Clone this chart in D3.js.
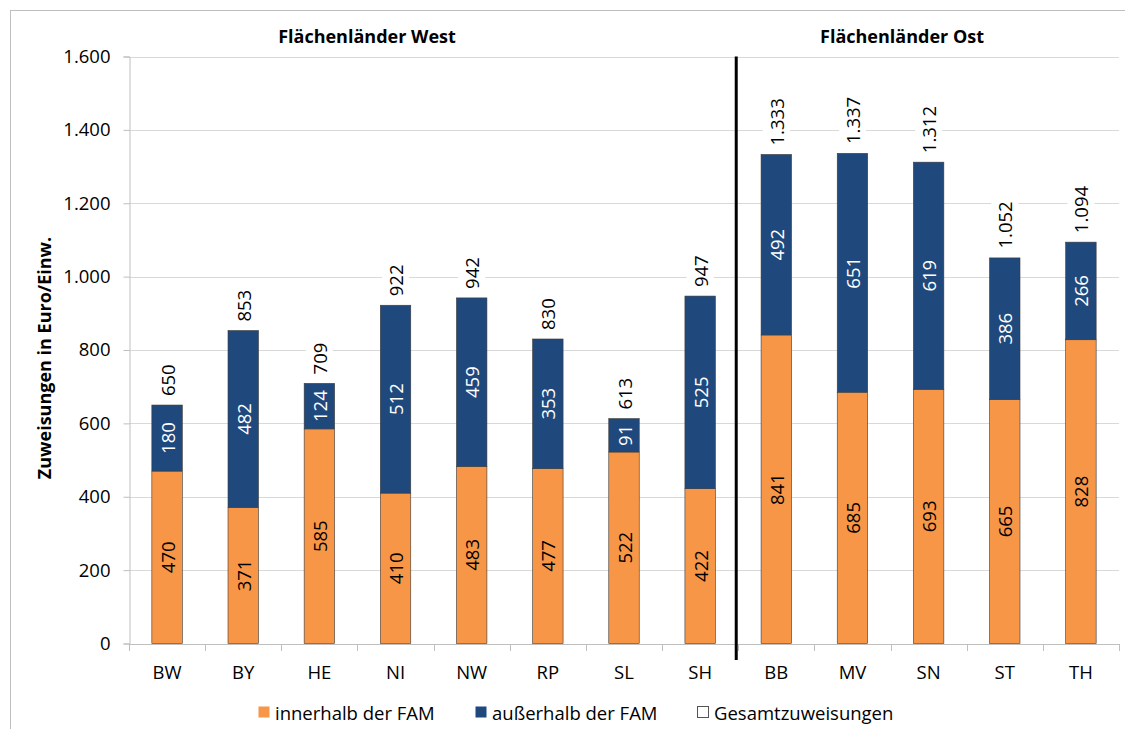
<!DOCTYPE html>
<html>
<head>
<meta charset="utf-8">
<script src="https://cdn.jsdelivr.net/npm/d3@7"></script>
<style>
  html, body { margin: 0; padding: 0; background: #fff; }
  svg { display: block; font-family: "Open Sans", Lato, sans-serif; }
</style>
</head>
<body>
<svg id="chart" width="1125" height="729"></svg>
<script>
// Zuweisungen je Einwohner, Flächenländer West / Ost
const laender = ["BW", "BY", "HE", "NI", "NW", "RP", "SL", "SH", "BB", "MV", "SN", "ST", "TH"];
const innerhalb = [470, 371, 585, 410, 483, 477, 522, 422, 841, 685, 693, 665, 828];
const ausserhalb = [180, 482, 124, 512, 459, 353, 91, 525, 492, 651, 619, 386, 266];
const gesamt = [650, 853, 709, 922, 942, 830, 613, 947, 1333, 1337, 1312, 1052, 1094];
const yTicks = [0, 200, 400, 600, 800, 1000, 1200, 1400, 1600];
const westCount = 8;
const gruppen = ["Flächenländer West", "Flächenländer Ost"];
const legende = ["innerhalb der FAM", "außerhalb der FAM", "Gesamtzuweisungen"];

const colInner = "#F79646";
const colOuter = "#1F497D";
const fontMain = "'Open Sans', Lato, sans-serif";
const fs = 18.5;

const de = d3.formatLocale({ decimal: ",", thousands: ".", grouping: [3], currency: ["", " €"] });
const fmt = de.format(",d");

const svg = d3.select("#chart");
const plotL = 129, plotR = 1119, plotT = 56.5, plotB = 643.5;

// outer chart frame
svg.append("rect")
  .attr("x", 10.5).attr("y", 10.5)
  .attr("width", 1125).attr("height", 729)
  .attr("fill", "none").attr("stroke", "#bfbfbf").attr("stroke-width", 1);

const x = d3.scaleBand().domain(laender).range([plotL, plotR]).paddingInner(0.6).paddingOuter(0.3);
const y = d3.scaleLinear().domain([0, 1600]).range([plotB, plotT]);

// gridlines
svg.append("g")
  .selectAll("line")
  .data(yTicks.filter(d => d > 0))
  .join("line")
  .attr("x1", plotL).attr("x2", plotR)
  .attr("y1", d => Math.round(y(d)) + 0.5).attr("y2", d => Math.round(y(d)) + 0.5)
  .attr("stroke", "#d9d9d9").attr("stroke-width", 1);

// y axis
const yAxis = svg.append("g")
  .attr("transform", `translate(${plotL + 0.5},0)`)
  .call(d3.axisLeft(y).tickValues(yTicks).tickFormat(fmt).tickSize(6).tickPadding(13));
yAxis.select(".domain").attr("stroke", "#bfbfbf");
yAxis.selectAll(".tick line").attr("stroke", "#bfbfbf");
yAxis.selectAll(".tick text")
  .attr("font-size", fs).attr("fill", "#000")
  .attr("font-family", fontMain);

// x axis (ticks between categories)
const boundaries = d3.range(laender.length + 1).map(i => plotL + i * (plotR - plotL) / laender.length);
const xAxisG = svg.append("g");
xAxisG.append("line")
  .attr("x1", plotL).attr("x2", plotR)
  .attr("y1", Math.round(plotB) + 0.5).attr("y2", Math.round(plotB) + 0.5)
  .attr("stroke", "#bfbfbf");
xAxisG.selectAll("line.tk")
  .data(boundaries)
  .join("line").attr("class", "tk")
  .attr("x1", d => Math.round(d) + 0.5).attr("x2", d => Math.round(d) + 0.5)
  .attr("y1", Math.round(plotB)).attr("y2", Math.round(plotB) + 7)
  .attr("stroke", "#bfbfbf");
xAxisG.selectAll("text")
  .data(laender)
  .join("text")
  .attr("x", d => x(d) + x.bandwidth() / 2)
  .attr("y", 679)
  .attr("text-anchor", "middle")
  .attr("font-size", fs)
  .text(d => d);

// stacked bars
const rows = laender.map((k, i) => ({ k, inner: innerhalb[i], outer: ausserhalb[i], total: gesamt[i] }));
const stack = d3.stack().keys(["inner", "outer"])(rows);
const colors = { inner: colInner, outer: colOuter };

const bars = svg.append("g");
stack.forEach(layer => {
  bars.append("g")
    .selectAll("rect")
    .data(layer)
    .join("rect")
    .attr("x", d => x(d.data.k))
    .attr("width", x.bandwidth())
    .attr("y", d => y(d[1]))
    .attr("height", d => y(d[0]) - y(d[1]))
    .attr("fill", colors[layer.key])
    .attr("stroke", "#3a3a3a")
    .attr("stroke-width", 0.6);
});

// value labels inside segments
stack.forEach(layer => {
  bars.append("g")
    .selectAll("text")
    .data(layer)
    .join("text")
    .attr("transform", d => {
      const cx = x(d.data.k) + x.bandwidth() / 2;
      const cy = (y(d[0]) + y(d[1])) / 2;
      return `translate(${cx},${cy}) rotate(-90)`;
    })
    .attr("text-anchor", "middle")
    .attr("dominant-baseline", "central")
    .attr("font-size", fs)
    .attr("fill", layer.key === "inner" ? "#000" : "#fff")
    .text(d => fmt(d.data[layer.key]));
});

// total labels above bars, on white background
const totals = svg.append("g");
rows.forEach(r => {
  const cx = x(r.k) + x.bandwidth() / 2;
  const base = y(r.total) - 9;
  const g = totals.append("g").attr("transform", `translate(${cx},${base}) rotate(-90)`);
  const t = g.append("text")
    .attr("x", 0).attr("y", 0)
    .attr("text-anchor", "start")
    .attr("dominant-baseline", "central")
    .attr("font-size", fs)
    .text(fmt(r.total));
  const bb = t.node().getBBox();
  g.insert("rect", "text")
    .attr("x", bb.x - 3).attr("y", bb.y - 1)
    .attr("width", bb.width + 6).attr("height", bb.height + 2)
    .attr("fill", "#fff");
});

// divider between West and East
const divX = boundaries[westCount];
svg.append("line")
  .attr("x1", divX - 2).attr("x2", divX - 2)
  .attr("y1", plotT).attr("y2", 660)
  .attr("stroke", "#000").attr("stroke-width", 3);

// group headings
svg.append("text")
  .attr("x", 367).attr("y", 43)
  .attr("text-anchor", "middle")
  .attr("font-size", 18).attr("font-weight", "bold")
  .text(gruppen[0]);
svg.append("text")
  .attr("x", 902).attr("y", 43)
  .attr("text-anchor", "middle")
  .attr("font-size", 18).attr("font-weight", "bold")
  .text(gruppen[1]);

// y axis title
svg.append("text")
  .attr("transform", "translate(44,358) rotate(-90)")
  .attr("text-anchor", "middle")
  .attr("dominant-baseline", "central")
  .attr("font-size", 18).attr("font-weight", "bold")
  .text("Zuweisungen in Euro/Einw.");

// legend
const legItems = [
  { label: legende[0], fill: colInner, stroke: "none", x: 258 },
  { label: legende[1], fill: colOuter, stroke: "none", x: 475 },
  { label: legende[2], fill: "#fff", stroke: "#555", x: 697 }
];
const leg = svg.append("g");
legItems.forEach(it => {
  leg.append("rect")
    .attr("x", it.x + 0.5).attr("y", 706.5)
    .attr("width", 11).attr("height", 11)
    .attr("fill", it.fill).attr("stroke", it.stroke).attr("stroke-width", 1);
  leg.append("text")
    .attr("x", it.x + 17).attr("y", 712)
    .attr("dominant-baseline", "central")
    .attr("font-size", fs)
    .text(it.label);
});
</script>
</body>
</html>
